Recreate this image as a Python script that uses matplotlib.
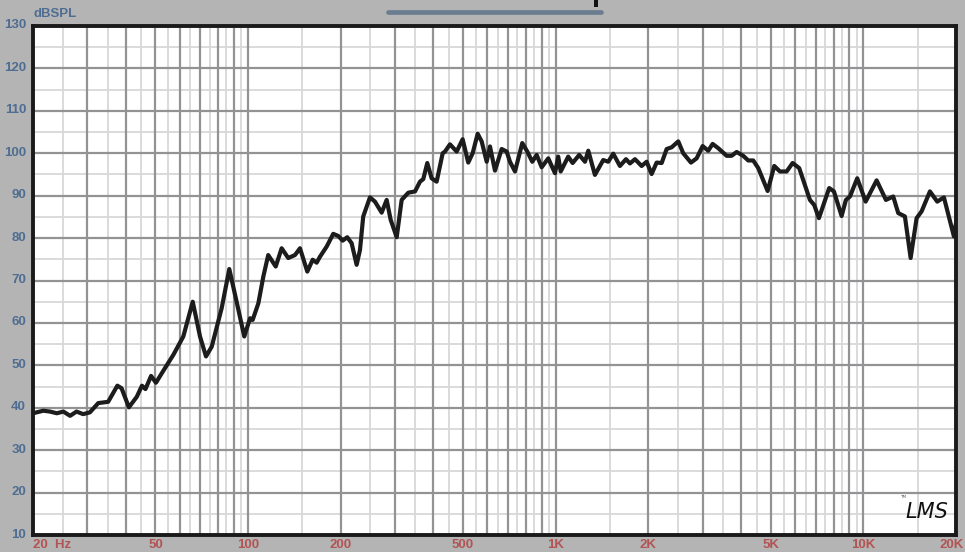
import matplotlib
matplotlib.use("Agg")
import matplotlib.pyplot as plt
from matplotlib.lines import Line2D
from matplotlib.patches import Rectangle
from matplotlib.transforms import ScaledTranslation

# frequency response (Hz, dBSPL)
freqs = [20.0, 21.6, 22.7, 23.9, 25.1, 26.4, 27.7, 29.1, 30.6, 32.6,
         35.1, 37.6, 38.8, 41.0, 43.5, 45.2, 46.4, 48.4, 50.2, 52.4,
         57.2, 61.6, 66.1, 69.8, 73.0, 76.2, 82.1, 86.9, 91.8, 97.2,
         101.5, 103.5, 108.0, 112.1, 116.3, 123.0, 128.6, 135.1, 142.1, 147.5,
         155.8, 162.2, 167.1, 171.3, 180.1, 189.2, 196.4, 203.0, 210.1, 217.1,
         225.4, 231.1, 236.8, 249.0, 258.5, 271.8, 282.2, 290.8, 304.2, 315.7,
         331.8, 348.9, 362.1, 371.1, 382.4, 395.1, 410.2, 429.1, 436.6, 453.2,
         476.5, 498.3, 519.6, 537.0, 557.6, 574.5, 596.5, 611.4, 634.7, 667.3,
         692.8, 710.1, 737.3, 778.5, 808.3, 839.0, 867.1, 900.3, 945.8, 994.4,
         1019, 1038, 1098, 1135, 1192, 1245, 1276, 1341, 1427, 1482,
         1538, 1617, 1692, 1743, 1810, 1902, 1975, 2050, 2128, 2210,
         2294, 2381, 2502, 2597, 2752, 2871, 3003, 3131, 3236, 3374,
         3594, 3730, 3873, 4068, 4224, 4385, 4553, 4884, 5133, 5356,
         5631, 5888, 6186, 6702, 6922, 7170, 7742, 8021, 8497, 8775,
         9043, 9550, 10170, 11042, 11838, 12503, 12980, 13645, 14243, 14894,
         15462, 16454, 17378, 18272, 19690, 20000]
spl = [38.7, 39.3, 39.1, 38.7, 39.1, 38.1, 39.1, 38.5, 38.9, 41.1,
       41.4, 45.2, 44.6, 40.1, 42.6, 45.2, 44.4, 47.5, 45.9, 48.1,
       52.5, 56.8, 65.0, 56.8, 52.1, 54.4, 63.5, 72.7, 65.0, 56.8,
       61.1, 60.7, 64.6, 70.9, 76.0, 73.3, 77.6, 75.3, 76.0, 77.6,
       72.1, 74.9, 74.2, 75.6, 78.0, 81.0, 80.5, 79.4, 80.2, 78.8,
       73.7, 77.2, 85.1, 89.6, 88.6, 86.0, 89.0, 84.3, 80.2, 89.0,
       90.7, 91.0, 93.3, 93.9, 97.7, 94.1, 93.3, 100.0, 100.4, 102.1,
       100.4, 103.3, 97.8, 100.0, 104.6, 102.8, 98.0, 101.6, 95.9, 101.0,
       100.4, 98.0, 95.7, 102.4, 100.4, 98.0, 99.6, 96.7, 98.8, 95.3,
       99.2, 95.7, 99.2, 97.7, 99.6, 98.0, 100.6, 94.9, 98.4, 98.0,
       99.9, 97.0, 98.6, 97.6, 98.6, 97.0, 98.0, 95.1, 97.8, 97.7,
       101.0, 101.4, 102.8, 100.0, 97.8, 98.8, 101.7, 100.6, 102.2, 101.2,
       99.4, 99.4, 100.3, 99.4, 98.3, 98.3, 96.5, 91.1, 97.0, 95.7,
       95.7, 97.7, 96.5, 89.0, 87.8, 84.7, 91.8, 91.0, 85.2, 89.0,
       89.8, 94.1, 88.6, 93.6, 89.0, 89.8, 85.9, 85.1, 75.3, 84.7,
       86.3, 91.0, 88.6, 89.6, 80.4, 83.5]

x_ticks = [20, 50, 100, 200, 500, 1000, 2000, 5000, 10000, 20000]
x_labels = ['20  Hz', '50', '100', '200', '500', '1K', '2K', '5K', '10K', '20K']
y_ticks = list(range(10, 131, 10))

W, H = 965, 552
fig = plt.figure(figsize=(W / 100, H / 100), dpi=100)
fig.patch.set_facecolor('#b4b4b4')
ax = fig.add_axes([33 / W, 17 / H, (956 - 33) / W, (535 - 26) / H])
ax.set_facecolor('white')
ax.set_xscale('log')
ax.set_xlim(20, 20000)
ax.set_ylim(10, 130)

# grid: dark lines at 1..9 x decade, light ones half way between
major = []
minor = []
for dec in [10, 100, 1000, 10000]:
    for m in range(1, 10):
        major.append(m * dec)
        minor.append((m + 0.5) * dec)
for f in major:
    if 20 < f < 20000:
        ax.axvline(f, color='#939396', lw=1.6, zorder=1)
for f in minor:
    if 20 < f < 20000:
        ax.axvline(f, color='#d8d8d8', lw=1.3, zorder=0.5)
for v in range(20, 130, 10):
    ax.axhline(v, color='#939396', lw=1.6, zorder=1)
for v in range(15, 130, 10):
    ax.axhline(v, color='#d8d8d8', lw=1.3, zorder=0.5)

ax.plot(freqs, spl, color='#1c1c1c', lw=3.0, solid_joinstyle='round', zorder=3)

ax.xaxis.set_minor_locator(plt.NullLocator())
ax.set_xticks(x_ticks)
ax.set_xticklabels(x_labels)
ax.set_yticks(y_ticks)
ax.set_yticklabels([str(v) for v in y_ticks])
ax.tick_params(axis='both', length=0)
ax.tick_params(axis='x', pad=3, labelcolor='#b25454')
ax.tick_params(axis='y', pad=5, labelcolor='#4e6d92')
for lab in ax.get_xticklabels() + ax.get_yticklabels():
    lab.set_fontfamily('Liberation Sans')
    lab.set_fontweight('bold')
    lab.set_fontsize(9.5)
# y labels sit slightly above their grid lines
for lab in ax.get_yticklabels():
    lab.set_transform(lab.get_transform() + ScaledTranslation(0, 2 / 100, fig.dpi_scale_trans))
ax.get_xticklabels()[0].set_horizontalalignment('left')
ax.get_xticklabels()[0].set_x(18.6)
# keep the last label inside the picture
last = ax.get_xticklabels()[-1]
last.set_transform(last.get_transform() + ScaledTranslation(-4 / 100, 0, fig.dpi_scale_trans))

for s in ax.spines.values():
    s.set_color('#1a1a1a')
    s.set_linewidth(2.8)
    s.set_zorder(4)

fig.text(34 / W, 1 - 14 / H, 'dBSPL', color='#4e6d92', fontsize=9.5,
         fontweight='bold', family='Liberation Sans', va='center', ha='left')

# LMS logo
ax.text(0.968, 0.045, 'LMS', transform=ax.transAxes, fontsize=15,
        style='italic', family='DejaVu Sans', color='#111111',
        ha='center', va='center', zorder=5)
ax.text(0.943, 0.075, 'TM', transform=ax.transAxes, fontsize=3,
        color='#555555', ha='center', va='center', zorder=5)

# cut-off title underline at top
fig.add_artist(Line2D([388 / W, 601 / W], [1 - 12 / H, 1 - 12 / H],
                      color='#6b7e91', lw=3.4, solid_capstyle='round'))
fig.add_artist(Rectangle((594 / W, 1 - 7 / H), 4 / W, 7 / H,
                         color='#111111', lw=0))

fig.savefig('out.png', dpi=100, facecolor=fig.get_facecolor())
